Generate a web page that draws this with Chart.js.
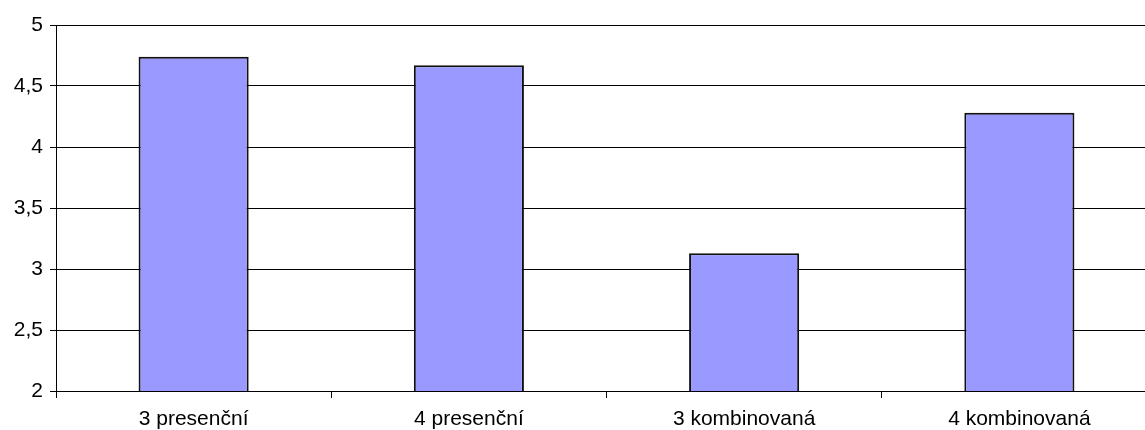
<!DOCTYPE html>
<html>
<head>
<meta charset="utf-8">
<script src="https://cdn.jsdelivr.net/npm/chart.js@4"></script>
<style>
html,body{margin:0;padding:0;background:#fff;overflow:hidden;width:1145px;height:430px;}
#wrap{position:absolute;left:0;top:0;width:1160px;height:430px;}
</style>
</head>
<body>
<div id="wrap"><canvas id="c" width="1160" height="430"></canvas></div>
<script>
const categories = ["3 presenční", "4 presenční", "3 kombinovaná", "4 kombinovaná"];
const values = [4.74, 4.67, 3.13, 4.28];
const yMin = 2, yMax = 5, yStep = 0.5;

new Chart(document.getElementById('c'), {
  type: 'bar',
  data: {
    labels: categories,
    datasets: [{
      data: values,
      backgroundColor: '#9999FF',
      borderColor: '#111',
      borderWidth: 2,
      barPercentage: 0.4,
      categoryPercentage: 1.0
    }]
  },
  options: {
    responsive: false,
    animation: false,
    devicePixelRatio: 1,
    layout: { padding: { top: 25, right: 3, bottom: 0, left: 0 } },
    plugins: { legend: { display: false }, tooltip: { enabled: false } },
    scales: {
      x: {
        grid: { display: true, drawOnChartArea: false, color: '#000', tickLength: 7, offset: true },
        border: { color: '#000', width: 1 },
        ticks: { color: '#000', font: { family: 'Liberation Sans', size: 21 }, padding: 9 },
        afterFit: s => { s.height = 39; }
      },
      y: {
        min: yMin, max: yMax,
        grid: { color: '#000', lineWidth: 1, tickLength: 6 },
        border: { color: '#000', width: 1 },
        ticks: {
          stepSize: yStep,
          color: '#000',
          font: { family: 'Liberation Sans', size: 21 },
          padding: 7,
          callback: v => String(v).replace('.', ',')
        },
        afterFit: s => { s.width = 56; }
      }
    }
  }
});
</script>
</body>
</html>
